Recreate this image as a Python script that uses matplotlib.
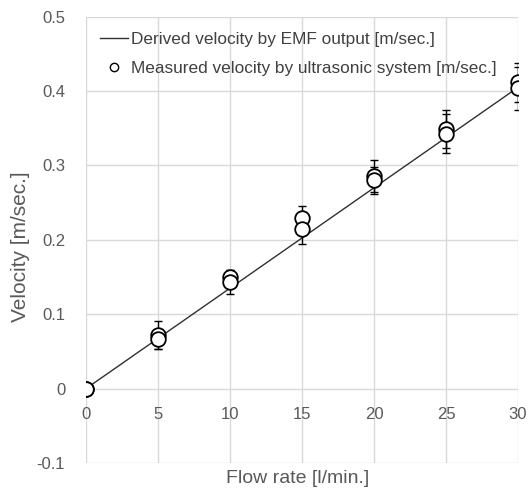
import matplotlib.pyplot as plt
import numpy as np

# data
flow = [0, 5, 10, 15, 20, 25, 30]
derived = [0.0, 0.0675, 0.135, 0.2025, 0.27, 0.3375, 0.405]

meas_a = [0.0, 0.072, 0.150, 0.229, 0.286, 0.349, 0.412]
err_a = [0.006, 0.019, 0.010, 0.016, 0.022, 0.025, 0.026]
meas_b = [0.0, 0.066, 0.143, 0.214, 0.280, 0.343, 0.404]
err_b = [0.006, 0.013, 0.016, 0.019, 0.018, 0.026, 0.029]

xticks = [0, 5, 10, 15, 20, 25, 30]
yticks = [-0.1, 0, 0.1, 0.2, 0.3, 0.4, 0.5]
ytick_labels = ['-0.1', '0', '0.1', '0.2', '0.3', '0.4', '0.5']

plt.rcParams['font.family'] = ['Liberation Sans', 'DejaVu Sans']
txt = '#595959'

fig = plt.figure(figsize=(5.28, 4.93), dpi=100)
ax = fig.add_axes([0.163, 0.061, 0.818, 0.905])

line, = ax.plot(flow, derived, color='#303030', lw=1.0, zorder=2,
                label='Derived velocity by EMF output [m/sec.]')
for vals, errs in ((meas_a, err_a), (meas_b, err_b)):
    ax.errorbar(flow, vals, yerr=errs, fmt='none', ecolor='black',
                elinewidth=1.0, capsize=3, capthick=1.0, zorder=3)
pts, = ax.plot(flow, meas_a, 'o', ms=10.5, mfc='white', mec='black', mew=1.3,
               zorder=4, label='Measured velocity by ultrasonic system [m/sec.]')
ax.plot(flow, meas_b, 'o', ms=10.5, mfc='white', mec='black', mew=1.3, zorder=4)

ax.set_xlim(0, 30)
ax.set_ylim(-0.1, 0.5)
ax.set_xticks(xticks)
ax.set_yticks(yticks)
ax.set_yticklabels(ytick_labels)
ax.grid(True, color='#d9d9d9', lw=1.0)
ax.set_axisbelow(True)
for s in ax.spines.values():
    s.set_visible(False)
ax.spines['bottom'].set_position(('data', 0))
ax.tick_params(axis='both', length=0, labelsize=12, labelcolor=txt)
ax.tick_params(axis='x', pad=13)
ax.tick_params(axis='y', pad=15)

ax.set_xlabel('Flow rate [l/min.]', fontsize=14, color=txt)
ax.xaxis.set_label_coords(0.49, -0.015)
ax.set_ylabel('Velocity [m/sec.]', fontsize=15, color=txt)
ax.yaxis.set_label_coords(-0.13, 0.484)

leg = ax.legend(handles=[line, pts], loc='upper left', frameon=False,
                fontsize=12.4, handlelength=1.6, handletextpad=0.2,
                borderaxespad=0.3, labelspacing=0.8,
                bbox_to_anchor=(0.005, 0.993))
for t in leg.get_texts():
    t.set_color('#404040')
leg.legend_handles[1].set_markersize(6)
leg.legend_handles[1].set_markeredgewidth(1.0)

fig.savefig('out.png', dpi=100)
